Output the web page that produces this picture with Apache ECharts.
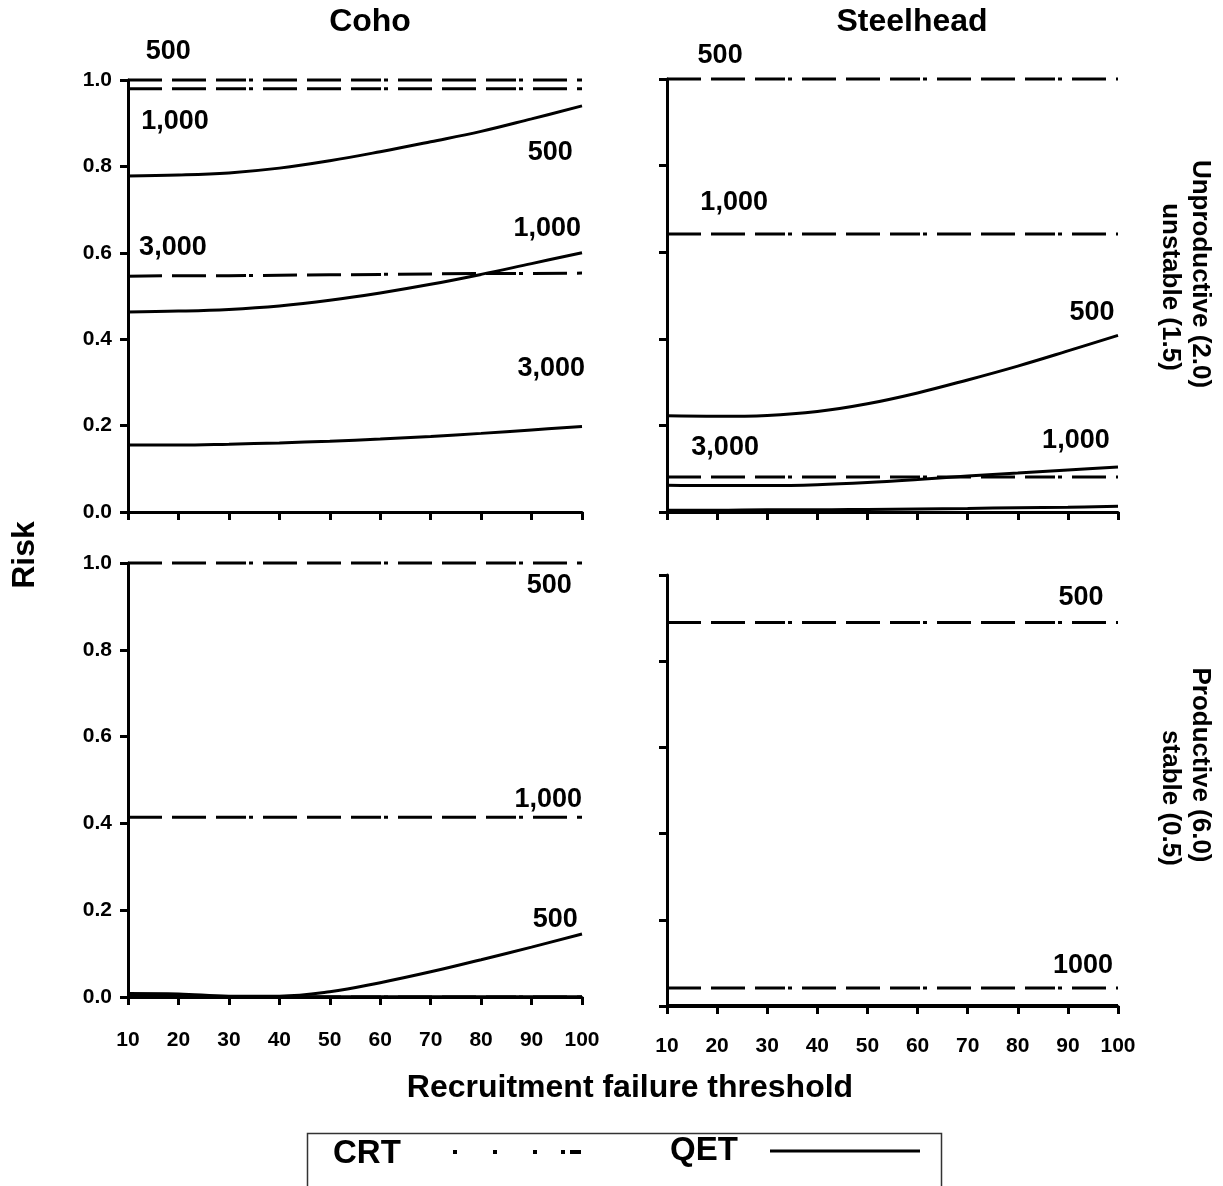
<!DOCTYPE html>
<html>
<head>
<meta charset="utf-8">
<style>
html,body{margin:0;padding:0;background:#fff;}
#chart{width:1223px;height:1186px;}
</style>
<script src="https://cdn.jsdelivr.net/npm/echarts@6/dist/echarts.min.js"></script>
</head>
<body>
<div id="chart"></div>
<script>
// ---------- DATA ----------
const thresholds = [10, 20, 30, 40, 50, 60, 70, 80, 90, 100];
const xTickLabels = ['10','20','30','40','50','60','70','80','90','100'];
const yTickLabels = ['0.0','0.2','0.4','0.6','0.8','1.0'];

// Coho, unproductive / unstable
const cohoU_CRT500  = [1.0, 1.0, 1.0, 1.0, 1.0, 1.0, 1.0, 1.0, 1.0, 1.0];
const cohoU_CRT1000 = [0.98, 0.98, 0.98, 0.98, 0.98, 0.98, 0.98, 0.98, 0.98, 0.98];
const cohoU_CRT3000 = [0.546, 0.547, 0.547, 0.548, 0.549, 0.55, 0.551, 0.552, 0.552, 0.553];
const cohoU_QET500  = [0.778, 0.780, 0.785, 0.796, 0.813, 0.834, 0.857, 0.881, 0.910, 0.940];
const cohoU_QET1000 = [0.463, 0.465, 0.469, 0.477, 0.490, 0.507, 0.527, 0.550, 0.575, 0.600];
const cohoU_QET3000 = [0.155, 0.155, 0.157, 0.160, 0.164, 0.169, 0.175, 0.182, 0.190, 0.198];

// Steelhead, unproductive / unstable
const steelU_CRT500  = [1.0, 1.0, 1.0, 1.0, 1.0, 1.0, 1.0, 1.0, 1.0, 1.0];
const steelU_CRT1000 = [0.642, 0.642, 0.642, 0.642, 0.642, 0.642, 0.642, 0.642, 0.642, 0.642];
const steelU_CRT3000 = [0.081, 0.081, 0.081, 0.081, 0.081, 0.081, 0.081, 0.081, 0.081, 0.081];
const steelU_QET500  = [0.222, 0.221, 0.223, 0.232, 0.250, 0.275, 0.305, 0.337, 0.372, 0.408];
const steelU_QET1000 = [0.062, 0.061, 0.061, 0.063, 0.068, 0.075, 0.083, 0.090, 0.097, 0.104];
const steelU_QET3000 = [0.004, 0.004, 0.005, 0.005, 0.006, 0.007, 0.008, 0.010, 0.011, 0.013];

// Coho, productive / stable
const cohoP_CRT500  = [1.0, 1.0, 1.0, 1.0, 1.0, 1.0, 1.0, 1.0, 1.0, 1.0];
const cohoP_CRT1000 = [0.414, 0.414, 0.414, 0.414, 0.414, 0.414, 0.414, 0.414, 0.414, 0.414];
const cohoP_CRT3000 = [0, 0, 0, 0, 0, 0, 0, 0, 0, 0];
const cohoP_QET500  = [0.008, 0.007, 0.002, 0.002, 0.012, 0.033, 0.058, 0.086, 0.115, 0.145];
const cohoP_QET1000 = [0.001, 0.001, 0, 0, 0, 0, 0, 0, 0, 0];
const cohoP_QET3000 = [0, 0, 0, 0, 0, 0, 0, 0, 0, 0];

// Steelhead, productive / stable
const steelP_CRT500  = [0.89, 0.89, 0.89, 0.89, 0.89, 0.89, 0.89, 0.89, 0.89, 0.89];
const steelP_CRT1000 = [0.042, 0.042, 0.042, 0.042, 0.042, 0.042, 0.042, 0.042, 0.042, 0.042];
const steelP_CRT3000 = [0, 0, 0, 0, 0, 0, 0, 0, 0, 0];
const steelP_QET500  = [0.001, 0.001, 0.001, 0.001, 0.001, 0.001, 0.001, 0.001, 0.001, 0.001];
const steelP_QET1000 = [0, 0, 0, 0, 0, 0, 0, 0, 0, 0];

// Line annotations: [threshold, risk, text]
const notesCohoU  = [[18.0, 1.065, '500'], [19.3, 0.903, '1,000'], [93.7, 0.831, '500'],
                     [18.9, 0.613, '3,000'], [93.1, 0.655, '1,000'], [93.9, 0.333, '3,000']];
const notesSteelU = [[20.6, 1.055, '500'], [23.4, 0.714, '1,000'], [94.8, 0.46, '500'],
                     [91.6, 0.166, '1,000'], [21.6, 0.148, '3,000']];
const notesCohoP  = [[93.5, 0.949, '500'], [93.3, 0.455, '1,000'], [94.7, 0.178, '500']];
const notesSteelP = [[92.6, 0.947, '500'], [93.0, 0.095, '1000']];

const columnTitles = ['Coho', 'Steelhead'];
const rowTitles = [['Unproductive (2.0)', 'unstable (1.5)'], ['Productive (6.0)', 'stable (0.5)']];
const xTitle = 'Recruitment failure threshold';
const yTitle = 'Risk';
const legendNames = ['CRT', 'QET'];

// ---------- CHART ----------
const FONT = '"Liberation Sans", Arial, sans-serif';
const chart = echarts.init(document.getElementById('chart'), null, {renderer: 'canvas'});

const grids = [
  {left: 128, top: 80,  width: 454, height: 432},
  {left: 667, top: 79,  width: 451, height: 433},
  {left: 128, top: 563, width: 454, height: 434},
  {left: 667, top: 575, width: 451, height: 431}
];

const axisLineStyle = {color: '#000', width: 3};
function xAxis(i, showLabels) {
  return {
    type: 'value', gridIndex: i, min: 10, max: 100, interval: 10,
    axisLine: {show: true, lineStyle: axisLineStyle},
    axisTick: {show: true, length: 8, lineStyle: {color: '#000', width: 3}},
    axisLabel: {show: showLabels, color: '#000', fontFamily: FONT, fontWeight: 'bold', fontSize: 21,
                margin: i === 3 ? 30 : 33,
                formatter: v => xTickLabels[thresholds.indexOf(v)] ?? ''},
    splitLine: {show: false}
  };
}
function yAxis(i, showLabels) {
  return {
    type: 'value', gridIndex: i, min: 0, max: 1, interval: 0.2,
    axisLine: {show: true, lineStyle: axisLineStyle},
    axisTick: {show: true, length: 8, lineStyle: {color: '#000', width: 3}},
    axisLabel: {show: showLabels, color: '#000', fontFamily: FONT, fontWeight: 'bold', fontSize: 21, margin: 16,
                formatter: v => yTickLabels[Math.round(v * 5)]},
    splitLine: {show: false}
  };
}

const CRT_DASH = [34, 10, 34, 10, 30, 3, 4, 10];
function pairs(arr) { return thresholds.map((t, k) => [t, arr[k]]); }
function crt(i, arr) {
  return {type: 'line', xAxisIndex: i, yAxisIndex: i, data: pairs(arr), showSymbol: false, symbol: 'none',
          clip: false, lineStyle: {color: '#000', width: 3, type: CRT_DASH, cap: 'butt'}, z: 3, silent: true};
}
function qet(i, arr) {
  return {type: 'line', xAxisIndex: i, yAxisIndex: i, data: pairs(arr), showSymbol: false, symbol: 'none',
          smooth: 0.4, clip: false, lineStyle: {color: '#000', width: 3}, z: 4, silent: true};
}
function notes(i, arr) {
  return {type: 'scatter', xAxisIndex: i, yAxisIndex: i, symbolSize: 0, clip: false, silent: true,
          itemStyle: {color: '#000', opacity: 1},
          data: arr.map(a => ({value: [a[0], a[1]], name: a[2]})),
          label: {show: true, position: 'inside', formatter: p => p.name, color: '#000', opacity: 1,
                  textBorderWidth: 0, textBorderColor: 'transparent',
                  fontFamily: FONT, fontWeight: 'bold', fontSize: 27}, z: 5};
}

const series = [
  crt(0, cohoU_CRT500), crt(0, cohoU_CRT1000), crt(0, cohoU_CRT3000),
  qet(0, cohoU_QET500), qet(0, cohoU_QET1000), qet(0, cohoU_QET3000), notes(0, notesCohoU),
  crt(1, steelU_CRT500), crt(1, steelU_CRT1000), crt(1, steelU_CRT3000),
  qet(1, steelU_QET500), qet(1, steelU_QET1000), qet(1, steelU_QET3000), notes(1, notesSteelU),
  crt(2, cohoP_CRT500), crt(2, cohoP_CRT1000), crt(2, cohoP_CRT3000),
  qet(2, cohoP_QET500), qet(2, cohoP_QET1000), qet(2, cohoP_QET3000), notes(2, notesCohoP),
  crt(3, steelP_CRT500), crt(3, steelP_CRT1000), crt(3, steelP_CRT3000),
  qet(3, steelP_QET500), qet(3, steelP_QET1000), notes(3, notesSteelP)
];

const bold = (size) => ({fontFamily: FONT, fontWeight: 'bold', fontSize: size, fill: '#000'});
const centered = (text, size) => Object.assign({text: text, align: 'center', verticalAlign: 'middle'}, bold(size));
const graphic = [
  {type: 'text', x: 370, y: 22, style: centered(columnTitles[0], 32)},
  {type: 'text', x: 912, y: 22, style: centered(columnTitles[1], 32)},
  {type: 'text', x: 630, y: 1088, style: centered(xTitle, 32)},
  {type: 'text', x: 25, y: 555, rotation: Math.PI / 2, style: centered(yTitle, 32)},
  {type: 'text', x: 1200, y: 274, rotation: -Math.PI / 2, style: centered(rowTitles[0][0], 26)},
  {type: 'text', x: 1170, y: 287, rotation: -Math.PI / 2, style: centered(rowTitles[0][1], 26)},
  {type: 'text', x: 1200, y: 765, rotation: -Math.PI / 2, style: centered(rowTitles[1][0], 26)},
  {type: 'text', x: 1170, y: 798, rotation: -Math.PI / 2, style: centered(rowTitles[1][1], 26)},
  // legend box
  {type: 'rect', shape: {x: 307.5, y: 1133.5, width: 634, height: 70}, style: {fill: 'none', stroke: '#333', lineWidth: 1.5}},
  {type: 'text', x: 333, y: 1154, style: Object.assign({text: legendNames[0], align: 'left', verticalAlign: 'middle'}, bold(33))},
  {type: 'rect', shape: {x: 453, y: 1150, width: 4, height: 4}, style: {fill: '#000'}},
  {type: 'rect', shape: {x: 493, y: 1150, width: 4, height: 4}, style: {fill: '#000'}},
  {type: 'rect', shape: {x: 533, y: 1150, width: 4, height: 4}, style: {fill: '#000'}},
  {type: 'rect', shape: {x: 561, y: 1150, width: 4, height: 4}, style: {fill: '#000'}},
  {type: 'rect', shape: {x: 570, y: 1150, width: 11, height: 4}, style: {fill: '#000'}},
  {type: 'text', x: 670, y: 1151, style: Object.assign({text: legendNames[1], align: 'left', verticalAlign: 'middle'}, bold(33))},
  {type: 'line', shape: {x1: 770, y1: 1151, x2: 920, y2: 1151}, style: {stroke: '#000', lineWidth: 3}}
];

chart.setOption({
  backgroundColor: '#fff',
  animation: false,
  grid: grids,
  xAxis: [xAxis(0, false), xAxis(1, false), xAxis(2, true), xAxis(3, true)],
  yAxis: [yAxis(0, true), yAxis(1, false), yAxis(2, true), yAxis(3, false)],
  series: series,
  graphic: graphic
});
</script>
</body>
</html>
